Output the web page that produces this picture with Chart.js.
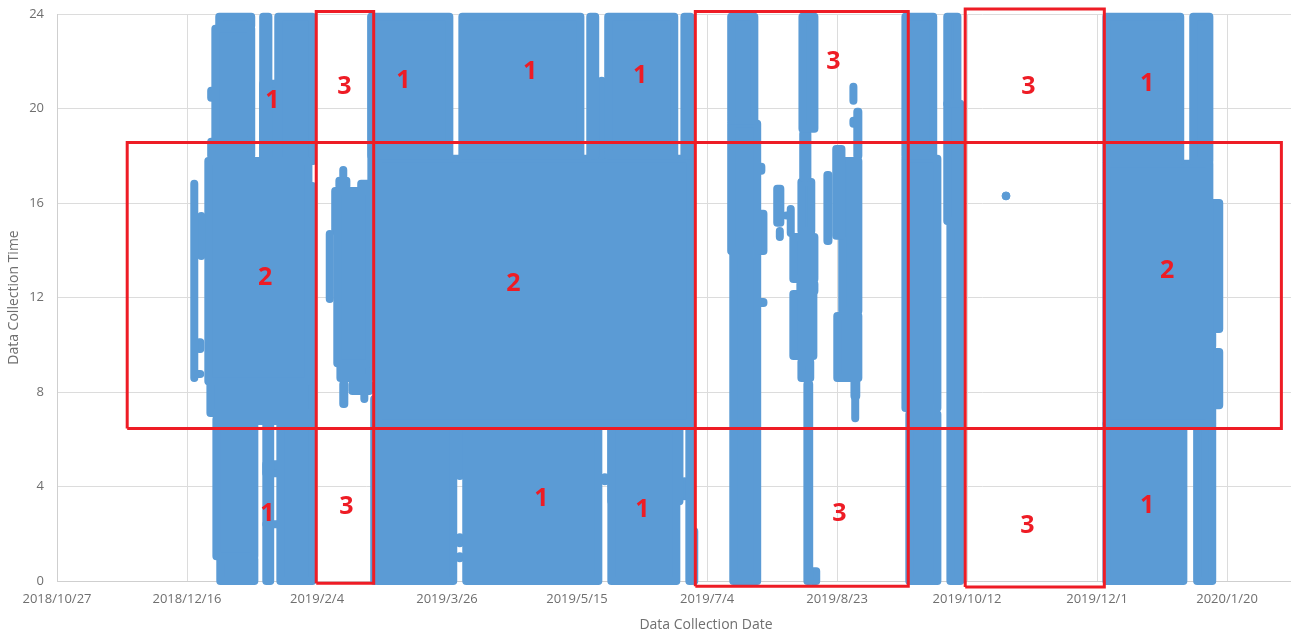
<!DOCTYPE html>
<html>
<head>
<meta charset="utf-8">
<title>Data Collection Time</title>
<script src="https://cdn.jsdelivr.net/npm/chart.js@4"></script>
<style>
  html, body { margin: 0; padding: 0; background: #fff; }
  canvas { display: block; }
</style>
</head>
<body>
<canvas id="chart" width="1291" height="637"></canvas>
<script>
// Dates are Excel day serials, times are hours. Each block is a run of days
// whose readings cover one time range.
const xTickLabels = ['2018/10/27', '2018/12/16', '2019/2/4', '2019/3/26', '2019/5/15', '2019/7/4', '2019/8/23', '2019/10/12', '2019/12/1', '2020/1/20'];
const firstTickDay = 43400;
const tickDays = 50;
const lastDay = 43874.6;
const tickHours = 4;
const lastHour = 24;

const blockFrom = [
  43452.8, 43455.5, 43454.7, 43453.6, 43458.2, 43459.0, 43461.7, 43459.3, 43460.9, 43459.3, 43462.4, 43479.3, 43485.1, 43479.3, 43461.3, 43462.8, 43480.5, 43485.9, 43480.5, 43480.5,
  43504.9, 43507.8, 43507.0, 43508.6, 43510.1, 43517.0, 43509.0, 43510.1, 43513.6, 43518.2, 43522.0, 43520.9,
  43520.9, 43555.9, 43605.1, 43612.0, 43641.3, 43609.5, 43523.2, 43523.2, 43557.4, 43554.9, 43554.9, 43554.9, 43613.2, 43613.2, 43610.7, 43643.2, 43645.1, 43641.3,
  43659.3, 43659.3, 43660.1, 43670.1, 43670.1, 43670.1,
  43686.7, 43687.0, 43686.3, 43683.2, 43685.9, 43683.2, 43686.3, 43688.6, 43690.5,
  43677.0, 43678.0, 43682.2, 43680.5,
  43696.3, 43699.7, 43702.0, 43707.8, 43706.3, 43706.3, 43700.1, 43706.7, 43707.0,
  43726.3, 43726.3, 43727.8, 43742.4, 43742.4, 43743.6,
  43803.6, 43837.0, 43803.6, 43844.3, 43844.3, 43844.3, 43844.3, 43803.6, 43838.5
];
const blockTo = [
  43452.8, 43455.5, 43455.1, 43455.1, 43496.7, 43498.2, 43498.2, 43474.7, 43474.7, 43459.3, 43474.7, 43481.3, 43498.2, 43498.2, 43475.9, 43475.9, 43482.0, 43498.2, 43498.2, 43498.2,
  43504.9, 43520.1, 43507.4, 43511.3, 43510.1, 43520.1, 43520.1, 43510.5, 43520.1, 43518.2, 43522.0, 43521.3,
  43550.9, 43601.3, 43607.0, 43637.4, 43643.6, 43609.5, 43643.6, 43552.4, 43608.2, 43554.9, 43554.9, 43554.9, 43638.2, 43639.4, 43610.7, 43643.9, 43645.1, 43641.3,
  43668.2, 43669.3, 43669.3, 43670.9, 43671.7, 43671.7,
  43691.3, 43688.6, 43690.1, 43691.3, 43691.3, 43690.9, 43689.7, 43689.3, 43692.0,
  43678.2, 43678.0, 43682.2, 43680.5,
  43696.7, 43701.7, 43708.2, 43708.2, 43706.3, 43706.3, 43708.2, 43707.4, 43707.0,
  43737.0, 43738.6, 43738.6, 43746.3, 43747.4, 43747.4,
  43832.0, 43843.2, 43843.2, 43847.0, 43844.3, 43847.0, 43844.3, 43833.2, 43844.3
];
const blockLow = [
  8.59, 13.76, 9.82, 8.76, 8.46, 7.11, 6.77, 18.0, 18.63, 20.45, 23.5, 17.78, 17.78, 17.78, 1.05, 0, 0, 0, 4.56, 2.40,
  11.94, 9.22, 14.82, 16.72, 17.15, 16.30, 8.59, 7.49, 8.04, 7.70, 0, 16.30,
  18.0, 18.0, 18.0, 18.0, 18.0, 18.0, 6.68, 0, 0, 4.44, 1.60, 0.96, 0, 3.38, 4.22, 0, 0, 3.59,
  19.48, 13.97, 0, 17.36, 13.97, 11.77,
  19.14, 17.06, 14.82, 12.78, 12.28, 9.52, 8.59, 0, 0,
  15.16, 14.56, 14.73, 15.47,
  14.39, 14.61, 11.43, 18.0, 20.33, 19.35, 8.59, 7.83, 6.89,
  18.0, 7.32, 0, 20.20, 15.24, 0,
  17.78, 17.78, 6.68, 10.67, 9.94, 7.44, 6.68, 0, 0
];
const blockHigh = [
  16.81, 15.45, 10.11, 8.76, 17.78, 16.72, 6.85, 18.59, 23.38, 20.75, 23.88, 23.88, 23.88, 21.05, 6.85, 0.92, 6.85, 6.85, 4.94, 2.40,
  14.69, 16.51, 16.51, 16.94, 17.40, 16.81, 9.18, 8.33, 8.33, 7.91, 7.70, 23.88,
  23.88, 23.88, 23.88, 23.88, 23.88, 21.17, 17.87, 6.64, 6.64, 6.64, 1.85, 1.05, 6.64, 6.64, 4.39, 6.64, 2.11, 4.22,
  23.88, 19.35, 13.84, 17.53, 15.54, 11.81,
  23.88, 18.93, 16.89, 14.56, 12.57, 12.15, 9.27, 8.33, 0.41,
  16.60, 14.82, 15.75, 15.47,
  17.19, 18.29, 17.78, 19.86, 20.92, 19.48, 11.22, 8.42, 7.70,
  23.88, 17.87, 7.06, 23.88, 20.20, 15.11,
  23.88, 23.88, 17.66, 16.0, 10.45, 9.69, 7.27, 6.64, 6.64
];

// lone reading inside the last "3" box
const loneDay = [43765];
const loneTime = [16.3];

// red region boxes
const boxFrom = [43427.0, 43499.7, 43645.5, 43749.3];
const boxTo = [43870.9, 43521.8, 43727.4, 43802.8];
const boxLow = [6.46, -0.10, -0.22, -0.25];
const boxHigh = [18.56, 24.11, 24.11, 24.21];

// red region numbers
const regionText = ['1', '3', '1', '1', '1', '3', '3', '1', '2', '2', '2', '1', '3', '1', '1', '3', '3', '1'];
const regionDay = [43482.8, 43510.5, 43533.2, 43582.0, 43624.3, 43698.6, 43773.6, 43819.3, 43480.1, 43575.5, 43827.0, 43480.9, 43511.3, 43586.3, 43625.1, 43700.9, 43773.2, 43819.3];
const regionTime = [20.32, 20.91, 21.17, 21.55, 21.39, 21.98, 20.91, 21.04, 12.83, 12.57, 13.12, 2.83, 3.12, 3.46, 3.00, 2.83, 2.32, 3.17];

// the x title sits off-centre because the source axis ran on past the crop
const xTitle = 'Data Collection Date';
const xTitleDay = 43649.6;

const BLUE = '#5b9bd5';
const RED = '#ee1c25';
const GRID = '#dcdcdc';
const TEXT = '#6f6f6f';
const FONT = '"Open Sans", sans-serif';

function outline(from, to, low, high) {
  return [
    { x: from, y: low }, { x: from, y: high },
    { x: to, y: high }, { x: to, y: low }, { x: from, y: low }
  ];
}

const blockSets = blockFrom.map((from, i) => ({
  data: outline(from, blockTo[i], blockLow[i], blockHigh[i]),
  showLine: true,
  borderColor: BLUE,
  backgroundColor: BLUE,
  borderWidth: 8,
  borderJoinStyle: 'round',
  borderCapStyle: 'round',
  pointRadius: 0,
  fill: 'shape',
  clip: false,
  order: 3
}));

const loneSet = {
  data: loneDay.map((d, i) => ({ x: d, y: loneTime[i] })),
  backgroundColor: BLUE,
  borderColor: BLUE,
  pointRadius: 4,
  clip: false,
  order: 2
};

const boxSets = boxFrom.map((from, i) => ({
  data: outline(from, boxTo[i], boxLow[i], boxHigh[i]),
  showLine: true,
  borderColor: RED,
  borderWidth: 3,
  borderJoinStyle: 'miter',
  pointRadius: 0,
  fill: false,
  clip: false,
  order: 1
}));

// Region numbers and the x title, placed through the chart's scales
const regionLabels = {
  id: 'regionLabels',
  afterDatasetsDraw(chart) {
    const { ctx, scales: { x, y } } = chart;
    ctx.save();
    ctx.font = 'bold 25px ' + FONT;
    ctx.fillStyle = RED;
    ctx.textAlign = 'center';
    ctx.textBaseline = 'middle';
    regionText.forEach((t, i) => {
      ctx.fillText(t, x.getPixelForValue(regionDay[i]), y.getPixelForValue(regionTime[i]));
    });
    ctx.font = '14px ' + FONT;
    ctx.fillStyle = TEXT;
    ctx.fillText(xTitle, x.getPixelForValue(xTitleDay), x.top + 44);
    ctx.restore();
  }
};

new Chart(document.getElementById('chart'), {
  type: 'scatter',
  data: { datasets: [...blockSets, loneSet, ...boxSets] },
  options: {
    responsive: false,
    animation: false,
    layout: { autoPadding: false, padding: { top: 14 } },
    plugins: { legend: { display: false }, tooltip: { enabled: false } },
    scales: {
      x: {
        type: 'linear',
        min: firstTickDay,
        max: lastDay,
        afterFit(scale) {
          scale.height = 56;
          scale.paddingLeft = 0;
          scale.paddingRight = 0;
        },
        grid: { color: GRID, drawTicks: false },
        border: { color: '#cfcfcf' },
        ticks: {
          stepSize: tickDays,
          includeBounds: false,
          autoSkip: false,
          maxRotation: 0,
          padding: 10,
          color: TEXT,
          font: { family: FONT, size: 13 },
          callback: (value) => xTickLabels[(value - firstTickDay) / tickDays] || ''
        }
      },
      y: {
        min: 0,
        max: lastHour,
        afterFit(scale) {
          scale.width = 57;
          scale.paddingTop = 0;
          scale.paddingBottom = 0;
        },
        grid: { color: GRID, drawTicks: false },
        border: { color: '#cfcfcf' },
        ticks: {
          stepSize: tickHours,
          padding: 13,
          color: TEXT,
          font: { family: FONT, size: 13 }
        },
        title: {
          display: true,
          text: 'Data Collection Time',
          color: TEXT,
          font: { family: FONT, size: 14 },
          padding: { top: 6, bottom: 0 }
        }
      }
    }
  },
  plugins: [regionLabels]
});
</script>
</body>
</html>
